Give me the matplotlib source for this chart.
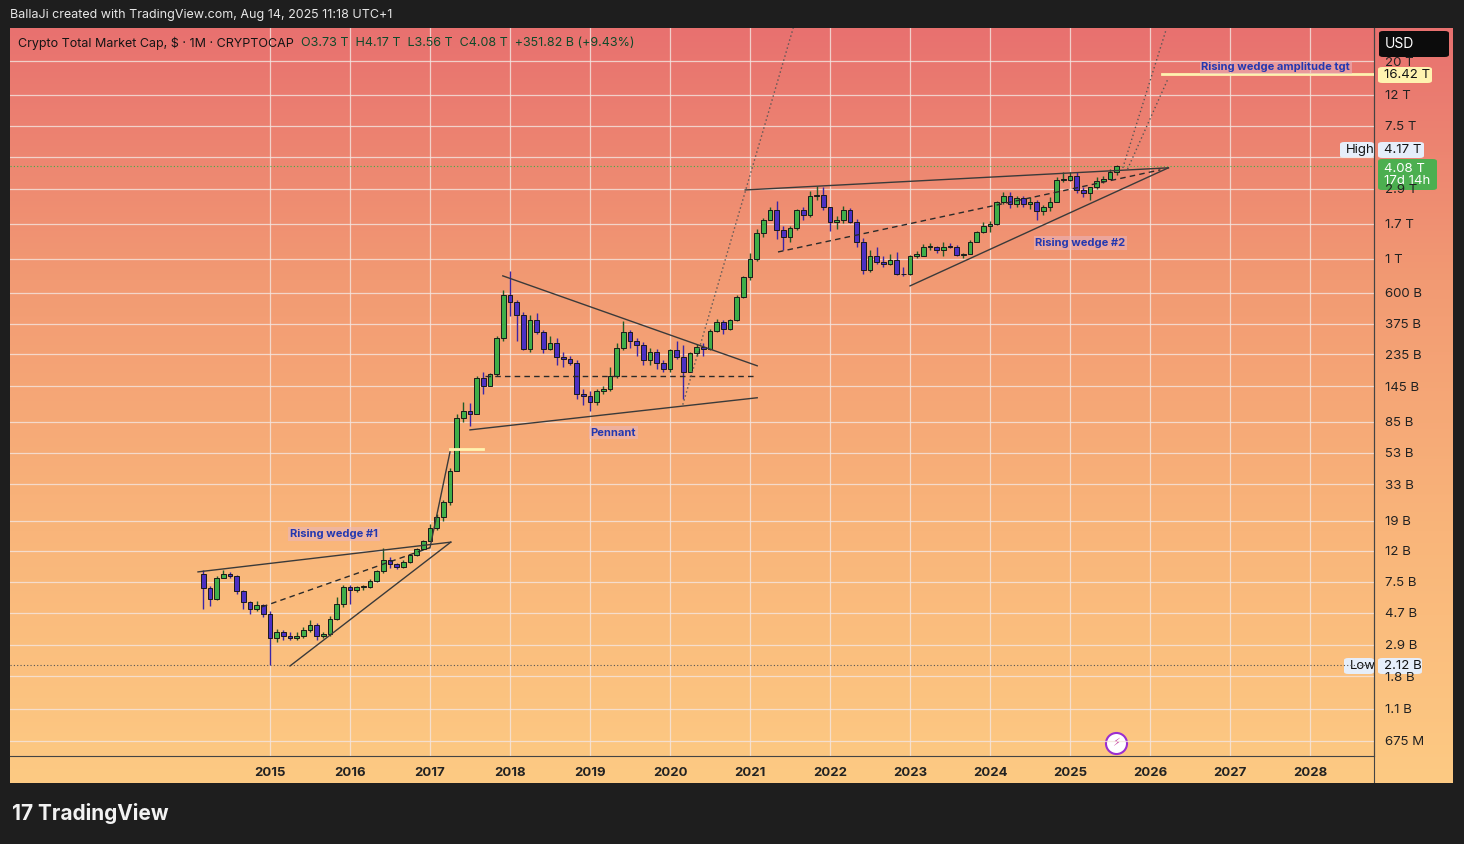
import numpy as np
import matplotlib
matplotlib.use("Agg")
import matplotlib.pyplot as plt
from matplotlib.colors import LinearSegmentedColormap
from matplotlib.patches import FancyBboxPatch

# ---------------- data (values in billions USD) ----------------
start_year, start_month = 2014, 3
first_open = 8.5
closes = [6.8,5.8,8.0,8.5,8.2,6.5,5.5,5.0,5.3,4.6,
          3.2,3.5,3.3,3.2,3.3,3.6,3.9,3.3,3.4,4.3,5.4,6.9,
          6.6,6.9,6.9,7.6,8.8,10.5,9.8,9.4,10.2,11.3,12.4,14.0,
          17,20,25,40,90,100,95,165,145,175,300,580,
          520,430,255,395,330,255,280,225,220,205,130,125,
          115,135,140,170,260,330,290,270,215,245,205,190,
          250,225,180,240,265,255,335,385,345,395,560,760,
          1000,1480,1800,2100,1550,1400,1600,2100,1950,2600,2650,2200,
          1750,1800,2100,1750,1300,850,1050,950,920,980,800,790,
          1050,1050,1200,1200,1150,1200,1190,1060,1080,1300,1500,1650,
          1700,2350,2600,2300,2500,2300,2350,2050,2200,2350,3300,3300,
          3500,2850,2700,2950,3250,3350,3730,4080]
highs = [9.0,7.0,8.2,9.0,8.7,8.3,6.6,5.6,5.6,5.4,
         4.8,3.7,3.6,3.5,3.5,3.8,4.2,4.0,3.5,4.5,6.0,7.2,
         7.2,7.0,7.2,7.8,9.0,12.5,11.0,10.0,10.4,11.5,12.6,14.2,
         18,21,26,42,95,115,112,170,180,178,310,620,
         830,540,450,430,440,340,310,300,245,230,215,140,
         135,140,145,195,280,390,340,300,285,260,255,215,
         255,290,270,245,275,280,345,400,395,400,580,770,
         1090,1570,1870,2200,2420,1650,1640,2130,2200,2800,3000,2950,
         2210,1900,2220,2150,1820,1380,1140,1200,1040,1080,1110,890,
         1060,1130,1250,1280,1210,1290,1270,1230,1100,1340,1520,1760,
         1780,2400,2750,2760,2600,2600,2560,2450,2270,2540,3460,3720,
         3730,3700,2980,2970,3480,3520,3900,4170]
lows = [5.0,5.2,5.7,7.9,7.9,6.2,5.0,4.6,4.8,4.4,
        2.12,3.0,3.1,3.1,3.1,3.2,3.5,3.1,3.2,3.3,4.2,5.1,
        5.4,6.4,6.6,6.8,7.5,8.6,9.3,9.1,9.3,10.0,11.1,12.2,
        14.5,16.5,19,24,40,85,80,95,130,145,170,290,
        420,290,250,245,320,240,250,200,195,200,120,110,
        100,110,130,135,165,250,260,230,200,200,190,180,
        180,220,120,180,230,230,250,330,320,340,390,550,
        730,970,1400,1790,1350,1150,1300,1550,1800,1880,2450,2100,
        1520,1570,1730,1720,1190,800,820,920,880,910,780,770,
        780,1020,1040,1150,1100,1040,1170,1040,1020,1070,1290,1490,
        1500,1680,2300,2160,2200,2180,2140,1810,1940,2080,2350,3190,
        3230,2700,2560,2440,2890,3160,3350,3560]

y_ticks = [20e3,12e3,7.5e3,4.7e3,2.9e3,1.7e3,1e3,600,375,235,145,85,53,33,19,12,7.5,4.7,2.9,1.8,1.1,0.675]
y_tick_labels = ["20 T","12 T","7.5 T","","2.9 T","1.7 T","1 T","600 B","375 B","235 B","145 B","85 B",
                 "53 B","33 B","19 B","12 B","7.5 B","4.7 B","2.9 B","1.8 B","1.1 B","675 M"]
x_years = list(range(2015, 2029))

# drawn annotations (decimal year, value in B)
solid_lines = [
    [(2014.1, 8.73), (2017.26, 13.7)],
    [(2015.25, 2.10), (2017.26, 13.7)],
    [(2017.0, 12.6), (2017.25, 53.7)],
    [(2017.91, 773), (2021.09, 198)],
    [(2017.5, 75), (2021.09, 122)],
    [(2020.94, 2840), (2026.23, 3970)],
    [(2023.0, 664), (2026.23, 3970)],
]
dashed_lines = [
    [(2014.9, 5.14), (2017.0, 12.6)],
    [(2017.69, 170), (2021.09, 170)],
    [(2021.35, 1110), (2026.13, 3850)],
]
dotted_lines = [
    [(2020.16, 110), (2021.54, 33000)],
    [(2025.66, 3970), (2026.2, 32000)],
    [(2025.72, 3900), (2026.23, 15500)],
]
target_value = 16420
high_value, low_value, last_value = 4170, 2.12, 4080

# ---------------- figure ----------------
W, H = 1464, 844
fig = plt.figure(figsize=(W/100, H/100), dpi=100, facecolor="#1e1e1e")
plt.rcParams["font.family"] = "Inter"

def fr(x0, y0, x1, y1):
    return [x0/W, 1-y1/H, (x1-x0)/W, (y1-y0)/H]

bg = fig.add_axes(fr(10, 28, 1453, 783))
cmap = LinearSegmentedColormap.from_list("g", ["#e8716f", "#f29a73", "#f9b57a", "#fdca83"])
bg.imshow(np.linspace(0, 1, 256)[:, None], aspect="auto", cmap=cmap, extent=[0, 1, 0, 1], origin="upper")
bg.set_xlim(0, 1); bg.set_ylim(0, 1); bg.axis("off")
bg.axvline((1374-10)/1443, color="#444444", lw=0.8)

ax = fig.add_axes(fr(10, 28, 1374, 756))
ax.patch.set_alpha(0)
ax.set_yscale("log")
ax.set_xlim(2011.75, 2028.8)
ax.set_ylim(0.537, 33000)
ax.set_yticks(y_ticks)
ax.set_yticklabels(y_tick_labels)
ax.yaxis.set_minor_locator(matplotlib.ticker.NullLocator())
ax.yaxis.tick_right()
ax.set_xticks(x_years)
ax.set_xticklabels([str(y) for y in x_years], fontweight="bold")
ax.tick_params(axis="both", length=0, labelsize=9.5, colors="#222222")
ax.tick_params(axis="y", pad=8)
ax.tick_params(axis="x", pad=8)
ax.grid(True, color="#f4e6e0", lw=0.9, alpha=0.8)
for s in ax.spines.values():
    s.set_color("#444444"); s.set_linewidth(0.8)
ax.spines["top"].set_visible(False); ax.spines["left"].set_visible(False)

# candles
n = len(closes)
xs = [start_year + (start_month - 1 + i) / 12 for i in range(n)]
opens = [first_open] + closes[:-1]
w = 0.06
for x, o, h, l, c in zip(xs, opens, highs, lows, closes):
    up = c >= o
    col = "#3fae49" if up else "#4b30c4"
    wick = "#1f5a26" if up else "#3a24a8"
    ax.vlines(x, l, h, color=wick, lw=1.0, zorder=3)
    lo, hi = min(o, c), max(o, c)
    if hi / lo < 1.01:
        hi = lo * 1.02
    ax.add_patch(plt.Rectangle((x - w/2, lo), w, hi - lo, facecolor=col,
                               edgecolor="#1a1a1a", lw=0.7, zorder=4))

for seg in solid_lines:
    (x0, y0), (x1, y1) = seg
    ax.plot([x0, x1], [y0, y1], color="#3a3a3a", lw=1.0, zorder=5)
for seg in dashed_lines:
    (x0, y0), (x1, y1) = seg
    ax.plot([x0, x1], [y0, y1], color="#2a2a2a", lw=1.0, ls=(0, (4, 3)), zorder=5)
for seg in dotted_lines:
    (x0, y0), (x1, y1) = seg
    ax.plot([x0, x1], [y0, y1], color="#555555", lw=1.0, ls=(0, (1, 2)), zorder=5)
ax.plot([2017.25, 2017.66], [56, 56], color="#fff3b0", lw=2, zorder=5)
ax.plot([2026.15, 2028.8], [target_value, target_value], color="#fff3b0", lw=2, zorder=5)
ax.axhline(last_value, color="#3fae49", lw=0.8, ls=(0, (1, 2)), zorder=2)
ax.axhline(low_value, color="#555555", lw=0.8, ls=(0, (1, 2)), zorder=2)

lab = dict(color="#2338b0", fontsize=8, fontweight="bold", ha="center", va="center", zorder=6,
           bbox=dict(boxstyle="square,pad=0.15", fc="#e9b6c0", ec="none", alpha=0.55))
ax.text(2015.8, 15.5, "Rising wedge #1", **lab)
ax.text(2019.29, 72, "Pennant", **lab)
ax.text(2025.13, 1270, "Rising wedge #2", **lab)
ax.text(2027.57, 18200, "Rising wedge amplitude tgt", **lab)

# title
fig.text(10/W, 1-15/H, "BallaJi created with TradingView.com, Aug 14, 2025 11:18 UTC+1",
         color="#e6e6e6", fontsize=9, va="center")
t1 = fig.text(18/W, 1-43/H, "Crypto Total Market Cap, $ · 1M · CRYPTOCAP", color="#151515", fontsize=9, va="center")
fig.canvas.draw()
x_end = t1.get_window_extent().x1
fig.text((x_end + 7)/W, 1-43/H, "O3.73 T  H4.17 T  L3.56 T  C4.08 T  +351.82 B (+9.43%)",
         color="#0f4a2a", fontsize=9, va="center")
fig.text(12/W, 1-814/H, "17 TradingView", color="#f2f2f2", fontsize=15, fontweight="bold", va="center")

# right-axis badges
def badge(x0, y0, x1, y1, text, fc, tc, fs=9.5, ha="left"):
    bg.add_patch(FancyBboxPatch(((x0-10)/1443, 1-(y1-28)/755), (x1-x0)/1443, (y1-y0)/755,
                                boxstyle="round,pad=0,rounding_size=0.003", fc=fc, ec="none",
                                transform=bg.transAxes, zorder=10))
    tx = (x0 + 6 - 10)/1443 if ha == "left" else ((x0+x1)/2 - 10)/1443
    bg.text(tx, 1-((y0+y1)/2-28)/755, text, color=tc, fontsize=fs, va="center", ha=ha,
            transform=bg.transAxes, zorder=11, linespacing=1.0)

badge(1379, 31, 1449, 57, "USD", "#0c0c0c", "#ffffff", fs=10)
badge(1378, 67, 1432, 83, "16.42 T", "#fff3b0", "#151515")
badge(1340, 142, 1374, 158, "High", "#e6eefa", "#151515")
badge(1378, 142, 1424, 158, "4.17 T", "#e6eefa", "#151515")
badge(1378, 159, 1437, 190, "4.08 T\n17d 14h", "#4caf50", "#ffffff")
badge(1344, 658, 1374, 674, "Low", "#e6eefa", "#151515")
badge(1378, 658, 1422, 674, "2.12 B", "#e6eefa", "#151515")

# lightning icon
bg.scatter([(1116-10)/1443], [1-(743-28)/755], s=230, c="#ffffff", edgecolors="#9b2fd0",
           linewidths=1.5, transform=bg.transAxes, zorder=10)
bg.text((1116-10)/1443, 1-(743-28)/755, "⚡", color="#c0359a", fontsize=8, ha="center", va="center",
        transform=bg.transAxes, zorder=11, fontfamily="DejaVu Sans")

fig.savefig("out.png", dpi=100, facecolor=fig.get_facecolor())
